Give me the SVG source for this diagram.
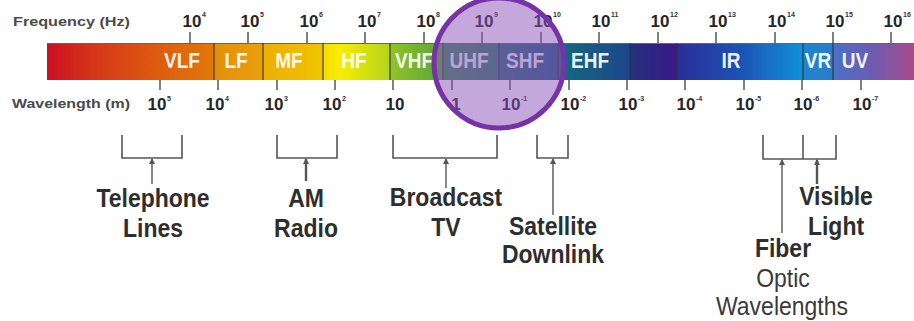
<svg xmlns="http://www.w3.org/2000/svg" width="914" height="321" viewBox="0 0 914 321">
<style>
text{font-family:"Liberation Sans",Arial,sans-serif;}
.axis{font-size:13px;font-weight:bold;fill:#4a4a4a;}
.num{font-size:17px;font-weight:bold;fill:#262626;text-anchor:middle;}
.sup{font-size:7px;font-weight:bold;fill:#333;}
.band{font-size:19px;font-weight:bold;fill:#ffffff;text-anchor:middle;opacity:.92;}
.tick{stroke:#555;stroke-width:1.5;}
.sep{stroke:#333;stroke-width:1.5;stroke-opacity:.75;}
.lbl{font-size:23px;font-weight:bold;fill:#2e2e2e;text-anchor:middle;}
.lbln{font-size:23px;font-weight:normal;fill:#3a3a3a;text-anchor:middle;}
.br{fill:none;stroke:#555;stroke-width:1.6;}
.arr{stroke:#555;stroke-width:1.4;marker-end:url(#ah);}
</style>
<defs>
<linearGradient id="spec" gradientUnits="userSpaceOnUse" x1="47" y1="0" x2="914" y2="0">
<stop offset="0" stop-color="#cc0f22"/>
<stop offset="0.061" stop-color="#d63a18"/>
<stop offset="0.130" stop-color="#de5c10"/>
<stop offset="0.191" stop-color="#e27808"/>
<stop offset="0.194" stop-color="#e68e0a"/>
<stop offset="0.248" stop-color="#eaa00c"/>
<stop offset="0.250" stop-color="#ecb000"/>
<stop offset="0.317" stop-color="#f0c400"/>
<stop offset="0.319" stop-color="#f6dc00"/>
<stop offset="0.338" stop-color="#f8ee00"/>
<stop offset="0.394" stop-color="#b4d41c"/>
<stop offset="0.396" stop-color="#90c428"/>
<stop offset="0.456" stop-color="#5aa43c"/>
<stop offset="0.458" stop-color="#3c8c58"/>
<stop offset="0.520" stop-color="#2e7a66"/>
<stop offset="0.522" stop-color="#2a6c74"/>
<stop offset="0.588" stop-color="#205a80"/>
<stop offset="0.590" stop-color="#146a80"/>
<stop offset="0.671" stop-color="#1c468a"/>
<stop offset="0.673" stop-color="#24307e"/>
<stop offset="0.725" stop-color="#3a1888"/>
<stop offset="0.727" stop-color="#2a2e98"/>
<stop offset="0.799" stop-color="#1c52b4"/>
<stop offset="0.871" stop-color="#1090d8"/>
<stop offset="0.873" stop-color="#1c86cc"/>
<stop offset="0.905" stop-color="#2c7cc8"/>
<stop offset="0.908" stop-color="#4a70c4"/>
<stop offset="0.949" stop-color="#6a5cb4"/>
<stop offset="1" stop-color="#a84a8c"/>
</linearGradient>
<marker id="ah" markerUnits="userSpaceOnUse" markerWidth="6" markerHeight="6" refX="5" refY="3" orient="auto">
<path d="M0,0 L6,3 L0,6 z" fill="#555"/>
</marker>
</defs>
<rect width="914" height="321" fill="#ffffff"/>

<g id="axis-labels">
<text class="axis" x="13" y="26" textLength="117" lengthAdjust="spacingAndGlyphs">Frequency (Hz)</text>
<text class="axis" x="12" y="108" textLength="118" lengthAdjust="spacingAndGlyphs">Wavelength (m)</text>
</g>

<g id="frequency-scale">
<g class="tick">
<line x1="190" y1="32" x2="190" y2="43"/><line x1="248" y1="32" x2="248" y2="43"/><line x1="307" y1="32" x2="307" y2="43"/><line x1="365" y1="32" x2="365" y2="43"/><line x1="424" y1="32" x2="424" y2="43"/><line x1="482" y1="32" x2="482" y2="43"/><line x1="541" y1="32" x2="541" y2="43"/><line x1="599" y1="32" x2="599" y2="43"/><line x1="658" y1="32" x2="658" y2="43"/><line x1="716" y1="32" x2="716" y2="43"/><line x1="775" y1="32" x2="775" y2="43"/><line x1="833" y1="32" x2="833" y2="43"/><line x1="891" y1="32" x2="891" y2="43"/>
</g>
<text class="num" x="192" y="27">10</text><text class="sup" x="202" y="17">4</text>
<text class="num" x="250" y="27">10</text><text class="sup" x="260" y="17">5</text>
<text class="num" x="309" y="27">10</text><text class="sup" x="319" y="17">6</text>
<text class="num" x="367" y="27">10</text><text class="sup" x="377" y="17">7</text>
<text class="num" x="426" y="27">10</text><text class="sup" x="436" y="17">8</text>
<text class="num" x="484" y="27">10</text><text class="sup" x="494" y="17">9</text>
<text class="num" x="543" y="27">10</text><text class="sup" x="553" y="17">10</text>
<text class="num" x="601" y="27">10</text><text class="sup" x="611" y="17">11</text>
<text class="num" x="660" y="27">10</text><text class="sup" x="670" y="17">12</text>
<text class="num" x="718" y="27">10</text><text class="sup" x="728" y="17">13</text>
<text class="num" x="777" y="27">10</text><text class="sup" x="787" y="17">14</text>
<text class="num" x="835" y="27">10</text><text class="sup" x="845" y="17">15</text>
<text class="num" x="893" y="27">10</text><text class="sup" x="903" y="17">16</text>
</g>

<g id="spectrum-bar">
<rect x="47" y="43" width="867" height="37" fill="url(#spec)"/>
<line x1="47" y1="43.5" x2="914" y2="43.5" stroke="#666" stroke-width="1"/>
<g class="sep">
<line x1="214" y1="43" x2="214" y2="80"/><line x1="263" y1="43" x2="263" y2="80"/><line x1="323" y1="43" x2="323" y2="80"/><line x1="390" y1="43" x2="390" y2="80"/><line x1="443" y1="43" x2="443" y2="80"/><line x1="499" y1="43" x2="499" y2="80"/><line x1="558" y1="43" x2="558" y2="80"/><line x1="630" y1="43" x2="630" y2="80"/><line x1="677" y1="43" x2="677" y2="80"/><line x1="803" y1="43" x2="803" y2="80"/><line x1="833" y1="43" x2="833" y2="80"/>
</g>
</g>
<g id="band-vlf"><text class="band" transform="translate(182,68) scale(1,1.15)">VLF</text></g>
<g id="band-lf"><text class="band" transform="translate(236,68) scale(1,1.15)">LF</text></g>
<g id="band-mf"><text class="band" transform="translate(289,68) scale(1,1.15)">MF</text></g>
<g id="band-hf"><text class="band" transform="translate(354,68) scale(1,1.15)">HF</text></g>
<g id="band-vhf"><text class="band" transform="translate(414,68) scale(1,1.15)">VHF</text></g>
<g id="band-uhf"><text class="band" transform="translate(469,68) scale(1,1.15)">UHF</text></g>
<g id="band-shf"><text class="band" transform="translate(525,68) scale(1,1.15)">SHF</text></g>
<g id="band-ehf"><text class="band" transform="translate(590,68) scale(1,1.15)">EHF</text></g>
<g id="band-ir"><text class="band" transform="translate(731,68) scale(1,1.15)">IR</text></g>
<g id="band-vr"><text class="band" transform="translate(818,68) scale(1,1.15)">VR</text></g>
<g id="band-uv"><text class="band" transform="translate(855,68) scale(1,1.15)">UV</text></g>

<g id="wavelength-scale">
<g class="tick">
<line x1="160" y1="80" x2="160" y2="90"/><line x1="218" y1="80" x2="218" y2="90"/><line x1="277" y1="80" x2="277" y2="90"/><line x1="335" y1="80" x2="335" y2="90"/><line x1="393" y1="80" x2="393" y2="90"/><line x1="452" y1="80" x2="452" y2="90"/><line x1="510" y1="80" x2="510" y2="90"/><line x1="569" y1="80" x2="569" y2="90"/><line x1="627" y1="80" x2="627" y2="90"/><line x1="685" y1="80" x2="685" y2="90"/><line x1="744" y1="80" x2="744" y2="90"/><line x1="802" y1="80" x2="802" y2="90"/><line x1="861" y1="80" x2="861" y2="90"/>
</g>
<text class="num" x="157" y="110">10</text><text class="sup" x="167" y="101">5</text>
<text class="num" x="215" y="110">10</text><text class="sup" x="225" y="101">4</text>
<text class="num" x="274" y="110">10</text><text class="sup" x="284" y="101">3</text>
<text class="num" x="332" y="110">10</text><text class="sup" x="342" y="101">2</text>
<text class="num" x="395" y="110">10</text>
<text class="num" x="456" y="110">1</text>
<text class="num" x="511" y="110">10</text><text class="sup" x="521" y="101">-1</text>
<text class="num" x="570" y="110">10</text><text class="sup" x="580" y="101">-2</text>
<text class="num" x="628" y="110">10</text><text class="sup" x="638" y="101">-3</text>
<text class="num" x="686" y="110">10</text><text class="sup" x="696" y="101">-4</text>
<text class="num" x="745" y="110">10</text><text class="sup" x="755" y="101">-5</text>
<text class="num" x="803" y="110">10</text><text class="sup" x="813" y="101">-6</text>
<text class="num" x="862" y="110">10</text><text class="sup" x="872" y="101">-7</text>
</g>

<g id="highlight">
<circle cx="499" cy="63" r="65" fill="#8951b9" fill-opacity="0.5" stroke="#7632a6" stroke-width="5"/>
</g>

<g id="connectors">
<path class="br" d="M122,135 V158 H182 V135"/>
<path class="br" d="M277,135 V158 H337 V135"/>
<path class="br" d="M393,135 V158 H497 V135"/>
<path class="br" d="M537,135 V158 H568 V135"/>
<path class="br" d="M763,135 V159 H836 V135 M803,135 V159"/>
<line class="arr" x1="152" y1="184" x2="152" y2="159"/>
<line class="arr" x1="306" y1="181" x2="306" y2="159" style="stroke-width:2.4"/>
<line class="arr" x1="446" y1="188" x2="446" y2="159"/>
<line class="arr" x1="553" y1="215" x2="553" y2="159"/>
<line class="arr" x1="782" y1="233" x2="782" y2="160"/>
<line class="arr" x1="817" y1="184" x2="817" y2="160" style="stroke-width:2.4"/>
</g>

<g id="telephone-lines">
<text class="lbl" transform="translate(153,207) scale(1,1.15)">Telephone</text>
<text class="lbl" transform="translate(153,237) scale(1,1.15)">Lines</text>
</g>
<g id="am-radio">
<text class="lbl" transform="translate(306,207) scale(1,1.15)">AM</text>
<text class="lbl" transform="translate(306,237) scale(1,1.15)">Radio</text>
</g>
<g id="broadcast-tv">
<text class="lbl" transform="translate(446,206) scale(1,1.15)">Broadcast</text>
<text class="lbl" transform="translate(446,236) scale(1,1.15)">TV</text>
</g>
<g id="satellite-downlink">
<text class="lbl" transform="translate(553,235) scale(1,1.15)">Satellite</text>
<text class="lbl" transform="translate(553,263) scale(1,1.15)">Downlink</text>
</g>
<g id="fiber-optic">
<text class="lbl" transform="translate(783,257) scale(1,1.15)">Fiber</text>
<text class="lbln" transform="translate(783,287) scale(1,1.15)">Optic</text>
<text class="lbln" transform="translate(782,315) scale(1,1.15)">Wavelengths</text>
</g>
<g id="visible-light">
<text class="lbl" transform="translate(836,205) scale(1,1.15)">Visible</text>
<text class="lbl" transform="translate(836,235) scale(1,1.15)">Light</text>
</g>
</svg>
